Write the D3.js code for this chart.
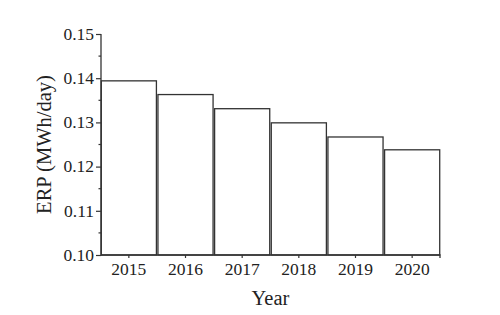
<!DOCTYPE html>
<html>
<head>
<meta charset="utf-8">
<script src="https://cdn.jsdelivr.net/npm/d3@7"></script>
<style>
  body { margin: 0; background: #fff; }
  text { font-family: "Liberation Serif", "DejaVu Serif", serif; fill: #222; }
</style>
</head>
<body>
<div class="mainView"></div>
<script>
let years = ["2015", "2016", "2017", "2018", "2019", "2020"];
let erp = [0.1394, 0.1363, 0.1331, 0.1299, 0.1267, 0.1238];
let yTicks = [0.10, 0.11, 0.12, 0.13, 0.14, 0.15];
let yMinor = [0.105, 0.115, 0.125, 0.135, 0.145];

function chartConfiguration(){
    let width = 500;
    let height = 315;
    let margin = { top: 34, bottom: 60, left: 101, right: 60 };
    let bodyHeight = height - margin.top - margin.bottom;
    let bodyWidth = width - margin.left - margin.right;
    let svg = d3.select(".mainView")
        .append("svg")
        .attr("width", width)
        .attr("height", height);
    let container = svg.append("g")
        .attr("transform", "translate(" + [margin.left, margin.top] + ")");
    return { width, height, margin, bodyHeight, bodyWidth, svg, container };
}

function chartScales(config){
    let { bodyWidth, bodyHeight } = config;
    let xScale = d3.scaleBand()
        .domain(years)
        .range([0, bodyWidth])
        .paddingInner(0.027)
        .paddingOuter(0.005);
    let yScale = d3.scaleLinear()
        .domain([0.10, 0.15])
        .range([bodyHeight, 0]);
    return { xScale, yScale };
}

function drawBars(config, scales){
    let { container, bodyHeight } = config;
    let { xScale, yScale } = scales;
    container.selectAll(".bar")
        .data(years)
        .enter()
        .append("rect")
        .attr("class", "bar")
        .attr("x", d => xScale(d))
        .attr("width", xScale.bandwidth())
        .attr("y", (d, i) => yScale(erp[i]))
        .attr("height", (d, i) => bodyHeight - yScale(erp[i]))
        .style("fill", "#fff")
        .style("stroke", "#333")
        .style("stroke-width", 1.3);
}

function drawAxes(config, scales){
    let { container, bodyHeight, bodyWidth } = config;
    let { xScale, yScale } = scales;

    let axisY = d3.axisLeft(yScale)
        .tickValues(yTicks)
        .tickFormat(d3.format(".2f"))
        .tickSize(5)
        .tickPadding(2);
    let gy = container.append("g").call(axisY);
    gy.select(".domain").attr("d", "M0," + (bodyHeight + 0.5) + "V0").style("stroke", "#333").style("stroke-width", 1.3);
    gy.selectAll(".tick line").style("stroke", "#333").style("stroke-width", 1.2);
    gy.selectAll("text").style("font-size", "17.5px").style("font-family", "Liberation Serif, serif").attr("dy", "0.3em");

    yMinor.forEach(v => {
        container.append("line")
            .attr("x1", -2.5).attr("x2", 0)
            .attr("y1", yScale(v)).attr("y2", yScale(v))
            .style("stroke", "#333").style("stroke-width", 1.2);
    });

    let axisX = d3.axisBottom(xScale)
        .tickSize(3)
        .tickPadding(5);
    let gx = container.append("g")
        .attr("transform", "translate(0," + bodyHeight + ")")
        .call(axisX);
    gx.select(".domain").attr("d", "M0,0H" + bodyWidth + "V3").style("stroke", "#333").style("stroke-width", 1.3);
    gx.selectAll(".tick line").style("stroke", "#333").style("stroke-width", 1.2);
    gx.selectAll("text").style("font-size", "17.5px").style("font-family", "Liberation Serif, serif");

    container.append("text")
        .attr("x", bodyWidth / 2)
        .attr("y", bodyHeight + 50)
        .attr("text-anchor", "middle")
        .style("font-size", "20.5px")
        .text("Year");

    container.append("text")
        .attr("transform", "translate(" + (-50) + "," + (bodyHeight / 2) + ") rotate(-90)")
        .attr("text-anchor", "middle")
        .style("font-size", "20.5px")
        .text("ERP (MWh/day)");
}

let config = chartConfiguration();
let scales = chartScales(config);
drawBars(config, scales);
drawAxes(config, scales);
</script>
</body>
</html>
